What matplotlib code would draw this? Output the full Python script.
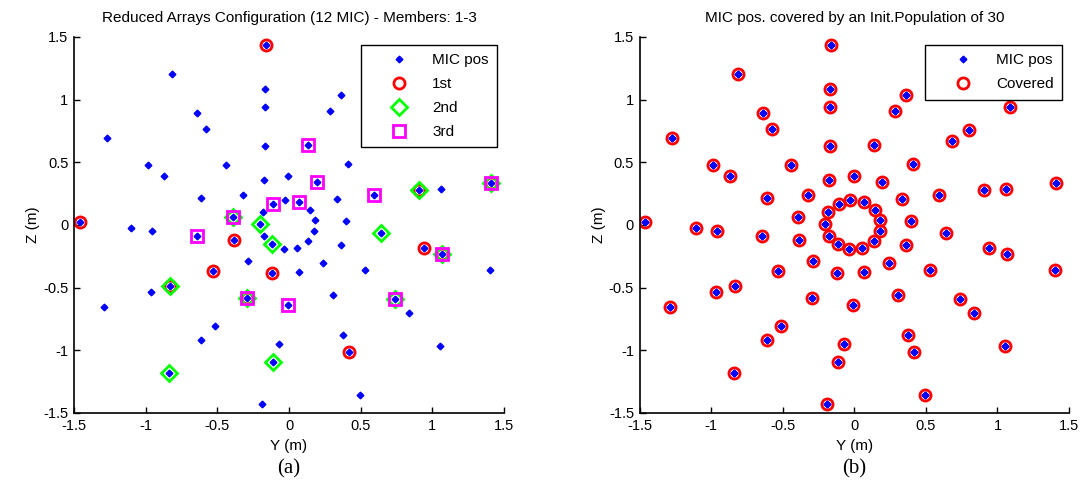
import matplotlib
matplotlib.use("Agg")
import matplotlib.pyplot as plt
from matplotlib import font_manager

# ---- data: microphone positions (Y, Z) in metres ----
mic_y = [-0.161, -0.814, -0.168, -0.168, -0.641, -0.578, -1.273, -0.168, -0.984, -0.443,
         -0.869, -0.005, -0.175, -0.613, -0.322, -0.028, -0.110, -0.184, -0.394, -1.459,
         -0.203, 0.361, 0.284, 1.089, 0.800, 0.683, 0.135, 0.413, 0.194, 0.334,
         0.592, 0.909, 1.058, 1.410, 0.070, 0.147, 0.180, 0.394, -1.103, -0.956,
         -0.643, -0.385, -0.175, -0.117, -0.037, -0.289, -0.534, -0.121, -0.830, -0.965,
         -0.296, -1.289, -0.009, -0.515, -0.611, -0.072, -0.112, -0.837, -0.191, 0.177,
         0.643, 0.135, 0.054, 0.359, 0.939, 1.068, 0.240, 0.070, 0.531, 1.401,
         0.305, 0.737, 0.837, 0.378, 0.415, 1.056, 0.497]
mic_z = [1.436, 1.204, 1.087, 0.941, 0.890, 0.765, 0.690, 0.629, 0.480, 0.480,
         0.394, 0.394, 0.362, 0.218, 0.242, 0.200, 0.165, 0.104, 0.061, 0.021,
         0.005, 1.034, 0.911, 0.941, 0.754, 0.669, 0.637, 0.490, 0.341, 0.205,
         0.240, 0.280, 0.290, 0.333, 0.184, 0.120, 0.040, 0.035, -0.024, -0.045,
         -0.085, -0.120, -0.088, -0.149, -0.192, -0.285, -0.370, -0.381, -0.485, -0.536,
         -0.581, -0.655, -0.642, -0.810, -0.914, -0.949, -1.092, -1.178, -1.428, -0.045,
         -0.067, -0.131, -0.184, -0.160, -0.181, -0.232, -0.306, -0.378, -0.360, -0.360,
         -0.560, -0.592, -0.706, -0.874, -1.013, -0.967, -1.356]

# reduced array members (12 MIC each)
first_y = [-0.161, -1.459, -0.385, -0.534, -0.121, -0.830, 0.909, 0.939, 1.068, 0.415, -0.296, 1.410]
first_z = [1.436, 0.021, -0.120, -0.370, -0.381, -0.485, 0.280, -0.181, -0.232, -1.013, -0.581, 0.333]
second_y = [-0.203, -0.117, -0.830, 0.909, 1.410, -0.296, -0.112, -0.837, 0.643, 1.068, 0.737, -0.394]
second_z = [0.005, -0.149, -0.485, 0.280, 0.333, -0.581, -1.092, -1.178, -0.067, -0.232, -0.592, 0.061]
third_y = [-0.394, -0.110, 0.135, 0.194, 0.070, 0.592, 1.410, -0.643, -0.296, -0.009, 1.068, 0.737]
third_z = [0.061, 0.165, 0.637, 0.341, 0.184, 0.240, 0.333, -0.085, -0.581, -0.642, -0.232, -0.592]

ticks = [-1.5, -1, -0.5, 0, 0.5, 1, 1.5]
tick_labels = ["-1.5", "-1", "-0.5", "0", "0.5", "1", "1.5"]

# ---- fonts ----
avail = {f.name for f in font_manager.fontManager.ttflist}
sans = "Liberation Sans Narrow" if "Liberation Sans Narrow" in avail else "Liberation Sans"
serif = "Liberation Serif" if "Liberation Serif" in avail else "DejaVu Serif"
plt.rcParams["font.family"] = [sans, "DejaVu Sans"]

fig = plt.figure(figsize=(10.84, 4.95), dpi=100)
ax1 = fig.add_axes([0.0683, 0.1657, 0.3967, 0.7596])
ax2 = fig.add_axes([0.590, 0.1657, 0.3962, 0.7596])

mic_kw = dict(linestyle="none", marker="D", color="#0000ff", markersize=3.4)

def style(ax, title):
    ax.set_xlim(-1.5, 1.5)
    ax.set_ylim(-1.5, 1.5)
    ax.set_xticks(ticks)
    ax.set_xticklabels(tick_labels)
    ax.set_yticks(ticks)
    ax.set_yticklabels(tick_labels)
    ax.tick_params(direction="in", length=4, labelsize=10.5, width=1, pad=4)
    for s in ("top", "right"):
        ax.spines[s].set_visible(False)
    for s in ("left", "bottom"):
        ax.spines[s].set_linewidth(1.2)
    ax.set_xlabel("Y (m)", fontsize=11, labelpad=5)
    ax.set_ylabel("Z (m)", fontsize=11, labelpad=2)
    ax.set_title(title, fontsize=11, pad=11)

def legend(ax):
    leg = ax.legend(loc="upper right", bbox_to_anchor=(0.984, 0.979), borderaxespad=0,
                    fontsize=11, frameon=True, framealpha=1, fancybox=False,
                    edgecolor="black", handletextpad=0.3, borderpad=0.55,
                    labelspacing=0.65, handlelength=3.8)
    leg.get_frame().set_linewidth(1)
    return leg

# (a)
ax1.plot(mic_y, mic_z, label="MIC pos", **mic_kw)
ax1.plot(first_y, first_z, linestyle="none", marker="o", markersize=8,
         markerfacecolor="none", markeredgecolor="#ff0000", markeredgewidth=2, label="1st")
ax1.plot(second_y, second_z, linestyle="none", marker="D", markersize=8,
         markerfacecolor="none", markeredgecolor="#00ff00", markeredgewidth=2, label="2nd")
ax1.plot(third_y, third_z, linestyle="none", marker="s", markersize=9,
         markerfacecolor="none", markeredgecolor="#ff00ff", markeredgewidth=2, label="3rd")
style(ax1, "Reduced Arrays Configuration (12 MIC) - Members: 1-3")
legend(ax1)

# (b)
ax2.plot(mic_y, mic_z, label="MIC pos", **mic_kw)
ax2.plot(mic_y, mic_z, linestyle="none", marker="o", markersize=8,
         markerfacecolor="none", markeredgecolor="#ff0000", markeredgewidth=2, label="Covered")
ax2.plot(mic_y, mic_z, linestyle="none", marker="D", color="#0000ff", markersize=3.4)
style(ax2, "MIC pos. covered by an Init.Population of 30")
legend(ax2)

fig.text(0.2665, 0.053, "(a)", ha="center", va="center", fontsize=15, family=serif)
fig.text(0.788, 0.053, "(b)", ha="center", va="center", fontsize=15, family=serif)

fig.savefig("out.png", dpi=100)
